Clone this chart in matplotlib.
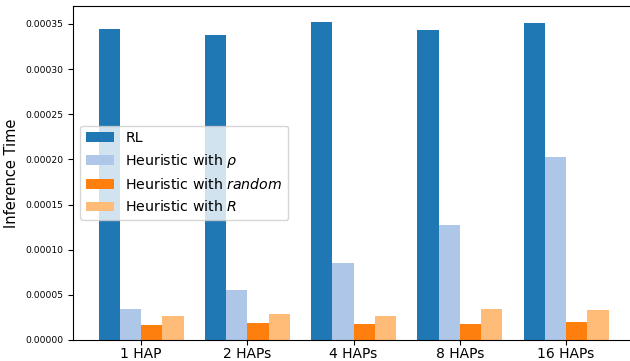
import numpy as np
import matplotlib
matplotlib.use("Agg")
import matplotlib.pyplot as plt

# data
groups = ["1 HAP", "2 HAPs", "4 HAPs", "8 HAPs", "16 HAPs"]
rl = [0.0003445, 0.0003382, 0.0003526, 0.0003430, 0.0003511]
heur_rho = [0.0000343, 0.0000557, 0.0000855, 0.0001272, 0.0002025]
heur_random = [0.0000163, 0.0000188, 0.0000180, 0.0000174, 0.0000199]
heur_R = [0.0000266, 0.0000291, 0.0000262, 0.0000343, 0.0000332]

series = [
    ("RL", rl, "#1f77b4"),
    (r"Heuristic with $\rho$", heur_rho, "#aec7e8"),
    (r"Heuristic with $\it{random}$", heur_random, "#ff7f0e"),
    (r"Heuristic with $R$", heur_R, "#ffbb78"),
]

fig = plt.figure(figsize=(6.3, 3.61), dpi=100)
# axes runs off the right edge, as in the cropped reference
ax = fig.add_axes([0.1159, 0.0582, 0.8905, 0.926])

x = np.arange(len(groups))
width = 0.2
for i, (label, vals, color) in enumerate(series):
    ax.bar(x + (i - 1.5) * width, vals, width, label=label, color=color)

ax.set_xticks(x)
ax.set_xticklabels(groups, fontsize=10)
ax.tick_params(axis="x", pad=1.5)
ax.tick_params(axis="y", labelsize=6.6)
ax.set_ylabel("Inference Time", fontsize=10.5)
ax.yaxis.set_label_coords(-0.097, 0.5)
ax.legend(loc="center left", fontsize=10.2)

fig.savefig("out.png", dpi=100)
